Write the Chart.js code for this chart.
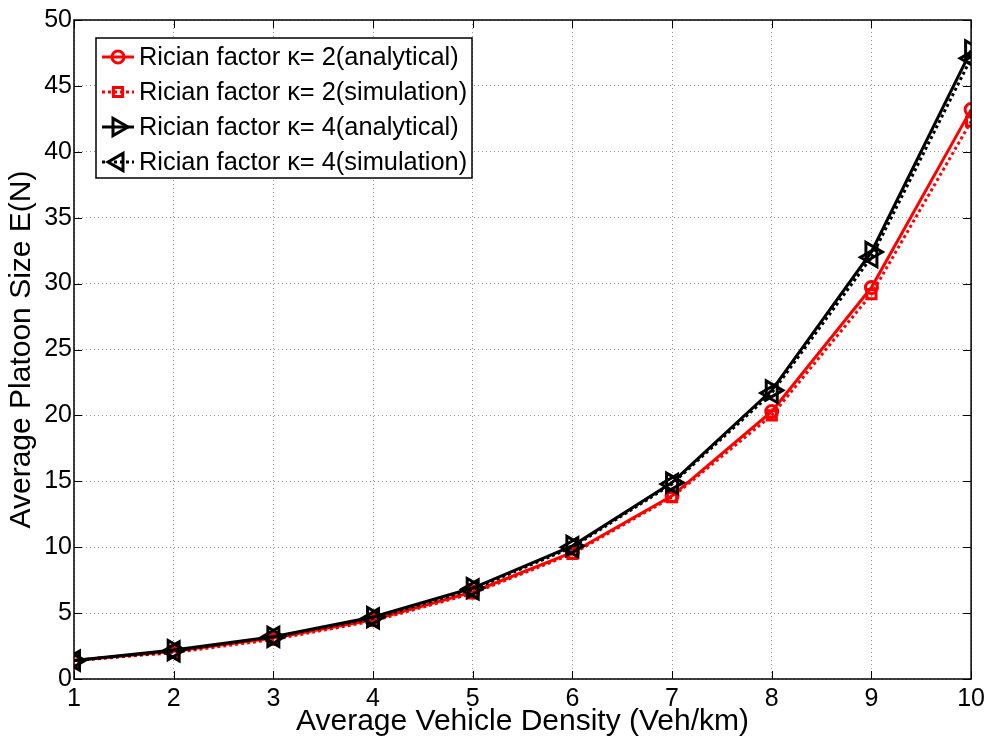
<!DOCTYPE html>
<html>
<head>
<meta charset="utf-8">
<script src="https://cdn.jsdelivr.net/npm/chart.js@4.4.1/dist/chart.umd.min.js"></script>
<style>
html,body{margin:0;padding:0;background:#fff;}
canvas{display:block;}
</style>
</head>
<body>
<canvas id="c" width="990" height="742"></canvas>
<script>
const density = [1, 2, 3, 4, 5, 6, 7, 8, 9, 10];
const k2Analytical = [1.4, 2.1, 3.1, 4.5, 6.6, 9.6, 13.9, 20.3, 29.7, 43.2];
const k2Simulation = [1.4, 2.0, 3.0, 4.4, 6.5, 9.5, 13.8, 20.0, 29.2, 42.3];
const k4Analytical = [1.4, 2.2, 3.2, 4.7, 6.9, 10.1, 14.9, 21.9, 32.4, 47.7];
const k4Simulation = [1.4, 2.1, 3.2, 4.6, 6.8, 10.0, 14.8, 21.7, 32.0, 47.1];
const seriesLabels = [
  'Rician factor \u03ba= 2(analytical)',
  'Rician factor \u03ba= 2(simulation)',
  'Rician factor \u03ba= 4(analytical)',
  'Rician factor \u03ba= 4(simulation)'
];
const xTitle = 'Average Vehicle Density (Veh/km)';
const yTitle = 'Average Platoon Size E(N)';

const FONT = "'Liberation Sans', Arial, Helvetica, sans-serif";
const pts = (ys) => density.map((x, i) => ({x: x, y: ys[i]}));

function mk(label, ys, color, dash, style, rot, radius, order) {
  return {
    label: label, data: pts(ys), borderColor: color, backgroundColor: 'rgba(0,0,0,0)',
    borderWidth: 3, borderDash: dash, borderCapStyle: 'butt', tension: 0,
    pointStyle: style, rotation: rot, pointRadius: radius, pointHoverRadius: radius,
    pointBorderWidth: 3, pointBorderColor: color, pointBackgroundColor: 'rgba(0,0,0,0)',
    order: order
  };
}

const datasets = [
  mk(seriesLabels[0], k2Analytical, '#ff0000', [], 'circle', 0, 6, 4),
  mk(seriesLabels[1], k2Simulation, '#ff0000', [3, 3], 'rect', 0, 6.5, 3),
  mk(seriesLabels[2], k4Analytical, '#000000', [], 'triangle', 90, 11, 2),
  mk(seriesLabels[3], k4Simulation, '#000000', [3, 3], 'triangle', -90, 11, 1)
];

function drawMarker(ctx, style, x, y, r, rot) {
  ctx.beginPath();
  if (style === 'circle') {
    ctx.arc(x, y, r, 0, Math.PI * 2);
  } else if (style === 'rect') {
    const s = Math.SQRT1_2 * r;
    ctx.rect(x - s, y - s, 2 * s, 2 * s);
  } else {
    let rad = rot * Math.PI / 180;
    ctx.moveTo(x + Math.sin(rad) * r, y - Math.cos(rad) * r);
    rad += 2 * Math.PI / 3;
    ctx.lineTo(x + Math.sin(rad) * r, y - Math.cos(rad) * r);
    rad += 2 * Math.PI / 3;
    ctx.lineTo(x + Math.sin(rad) * r, y - Math.cos(rad) * r);
    ctx.closePath();
  }
  ctx.stroke();
}

const framePlugin = {
  id: 'frame',
  afterDraw(chart) {
    const {ctx, chartArea: a, scales} = chart;
    ctx.save();
    ctx.strokeStyle = '#000';
    ctx.lineWidth = 1;
    const tl = 8;
    scales.x.ticks.forEach(t => {
      const px = Math.round(scales.x.getPixelForValue(t.value)) + 0.5;
      ctx.beginPath();
      ctx.moveTo(px, a.bottom); ctx.lineTo(px, a.bottom - tl);
      ctx.moveTo(px, a.top); ctx.lineTo(px, a.top + tl);
      ctx.stroke();
    });
    scales.y.ticks.forEach(t => {
      const py = Math.round(scales.y.getPixelForValue(t.value)) + 0.5;
      ctx.beginPath();
      ctx.moveTo(a.left, py); ctx.lineTo(a.left + tl, py);
      ctx.moveTo(a.right, py); ctx.lineTo(a.right - tl, py);
      ctx.stroke();
    });
    ctx.lineWidth = 1.5;
    ctx.strokeRect(a.left, a.top, a.right - a.left, a.bottom - a.top);

    // legend
    const bx = 96, by = 38, bw = 376, bh = 140;
    ctx.fillStyle = '#fff';
    ctx.fillRect(bx, by, bw, bh);
    ctx.lineWidth = 1.5;
    ctx.strokeStyle = '#000';
    ctx.strokeRect(bx, by, bw, bh);
    ctx.font = '25.4px ' + FONT;
    ctx.textBaseline = 'middle';
    ctx.textAlign = 'left';
    chart.data.datasets.forEach((ds, i) => {
      const y = 57 + i * 35;
      ctx.strokeStyle = ds.borderColor;
      ctx.lineWidth = ds.borderWidth;
      ctx.setLineDash(ds.borderDash);
      ctx.beginPath();
      ctx.moveTo(102, y); ctx.lineTo(134, y);
      ctx.stroke();
      ctx.setLineDash([]);
      ctx.lineWidth = ds.pointBorderWidth;
      drawMarker(ctx, ds.pointStyle, 118, y, ds.pointStyle === 'triangle' ? 10 : ds.pointRadius, ds.rotation);
      ctx.fillStyle = '#000';
      ctx.fillText(ds.label, 139, y + 1);
    });
    ctx.restore();
  }
};

new Chart(document.getElementById('c'), {
  type: 'line',
  data: {datasets: datasets},
  options: {
    responsive: false,
    animation: false,
    events: [],
    layout: {padding: {left: 0, top: 20, right: 15, bottom: 0}},
    plugins: {legend: {display: false}, tooltip: {enabled: false}},
    scales: {
      x: {
        type: 'linear', min: 1, max: 10,
        afterFit(s) { s.height = 63; },
        ticks: {stepSize: 1, color: '#000', font: {family: FONT, size: 25}, padding: 5, maxRotation: 0},
        grid: {color: '#9a9a9a', lineWidth: 1, drawTicks: false},
        border: {display: false, dash: [1, 3]},
        title: {display: true, text: xTitle, color: '#000', font: {family: FONT, size: 30}, padding: {top: 0, bottom: 2}}
      },
      y: {
        type: 'linear', min: 0, max: 50,
        afterFit(s) { s.width = 74; },
        ticks: {stepSize: 5, color: '#000', font: {family: FONT, size: 25}, padding: 2},
        grid: {color: '#9a9a9a', lineWidth: 1, drawTicks: false},
        border: {display: false, dash: [1, 3]},
        title: {display: true, text: yTitle, color: '#000', font: {family: FONT, size: 30}, padding: {top: 4, bottom: 0}}
      }
    }
  },
  plugins: [framePlugin]
});
</script>
</body>
</html>
